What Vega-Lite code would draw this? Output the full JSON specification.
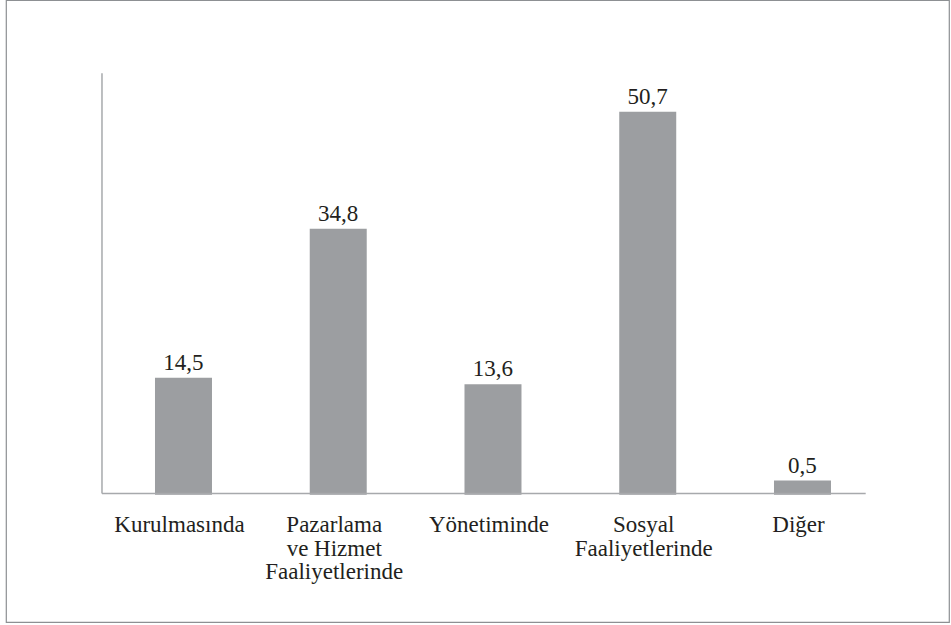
{
  "$schema": "https://vega.github.io/schema/vega-lite/v6.json",
  "width": 943,
  "height": 622,
  "autosize": "none",
  "padding": {"left": 6, "top": 0, "right": 2, "bottom": 3},
  "background": "white",
  "config": {
    "view": {"stroke": "#8d9093", "strokeWidth": 1.2},
    "font": "'Liberation Serif', 'DejaVu Serif', serif"
  },
  "data": {
    "values": [
      {"kategori": "Kurulmasında", "oran": 14.5, "etiket": "14,5"},
      {"kategori": "Pazarlama ve Hizmet Faaliyetlerinde", "oran": 34.8, "etiket": "34,8"},
      {"kategori": "Yönetiminde", "oran": 13.6, "etiket": "13,6"},
      {"kategori": "Sosyal Faaliyetlerinde", "oran": 50.7, "etiket": "50,7"},
      {"kategori": "Diğer", "oran": 0.5, "etiket": "0,5"}
    ]
  },
  "layer": [
    {
      "mark": {"type": "bar", "color": "#9c9ea1"},
      "encoding": {
        "x": {
          "field": "kategori",
          "type": "nominal",
          "sort": null,
          "title": null,
          "scale": {
            "domain": ["Kurulmasında", "Pazarlama ve Hizmet Faaliyetlerinde", "Yönetiminde", "Sosyal Faaliyetlerinde", "Diğer"],
            "paddingInner": 0.6317,
            "paddingOuter": 0.8627,
            "align": 0.558
          },
          "axis": {
            "orient": "bottom",
            "offset": -128,
            "domain": false,
            "ticks": false,
            "labelAngle": 0,
            "labelPadding": 19.5,
            "labelFontSize": 23,
            "labelFont": "'Liberation Serif', 'DejaVu Serif', serif",
            "labelColor": "#231f20",
            "labelLineHeight": 23.5,
            "labelOffset": -4,
            "labelLimit": 300,
            "labelExpr": "datum.value == 'Pazarlama ve Hizmet Faaliyetlerinde' ? ['Pazarlama', 've Hizmet', 'Faaliyetlerinde'] : datum.value == 'Sosyal Faaliyetlerinde' ? ['Sosyal', 'Faaliyetlerinde'] : datum.label"
          }
        },
        "y": {
          "field": "oran",
          "type": "quantitative",
          "axis": null,
          "scale": {"domain": [-18.76, 65.93], "nice": false, "zero": false}
        },
        "y2": {"datum": -1.45}
      }
    },
    {
      "mark": {"type": "text", "baseline": "alphabetic", "dy": -8, "fontSize": 23, "font": "'Liberation Serif', 'DejaVu Serif', serif", "color": "#231f20"},
      "encoding": {
        "x": {"field": "kategori", "type": "nominal", "sort": null, "title": null},
        "y": {"field": "oran", "type": "quantitative", "axis": null},
        "text": {"field": "etiket"}
      }
    },
    {
      "data": {"values": [{}]},
      "mark": {"type": "rule", "color": "#a7a9ac", "strokeWidth": 1.5},
      "encoding": {
        "x": {"datum": "Kurulmasında", "type": "nominal", "bandPosition": -0.93, "title": null},
        "y": {"datum": -1.25, "type": "quantitative", "axis": null},
        "y2": {"datum": 55.95}
      }
    },
    {
      "data": {"values": [{}]},
      "mark": {"type": "rule", "color": "#a7a9ac", "strokeWidth": 1.5},
      "encoding": {
        "x": {"datum": "Kurulmasında", "type": "nominal", "bandPosition": -0.93, "title": null},
        "x2": {"datum": "Diğer", "bandPosition": 1.609},
        "y": {"datum": -1.25, "type": "quantitative", "axis": null}
      }
    }
  ]
}
